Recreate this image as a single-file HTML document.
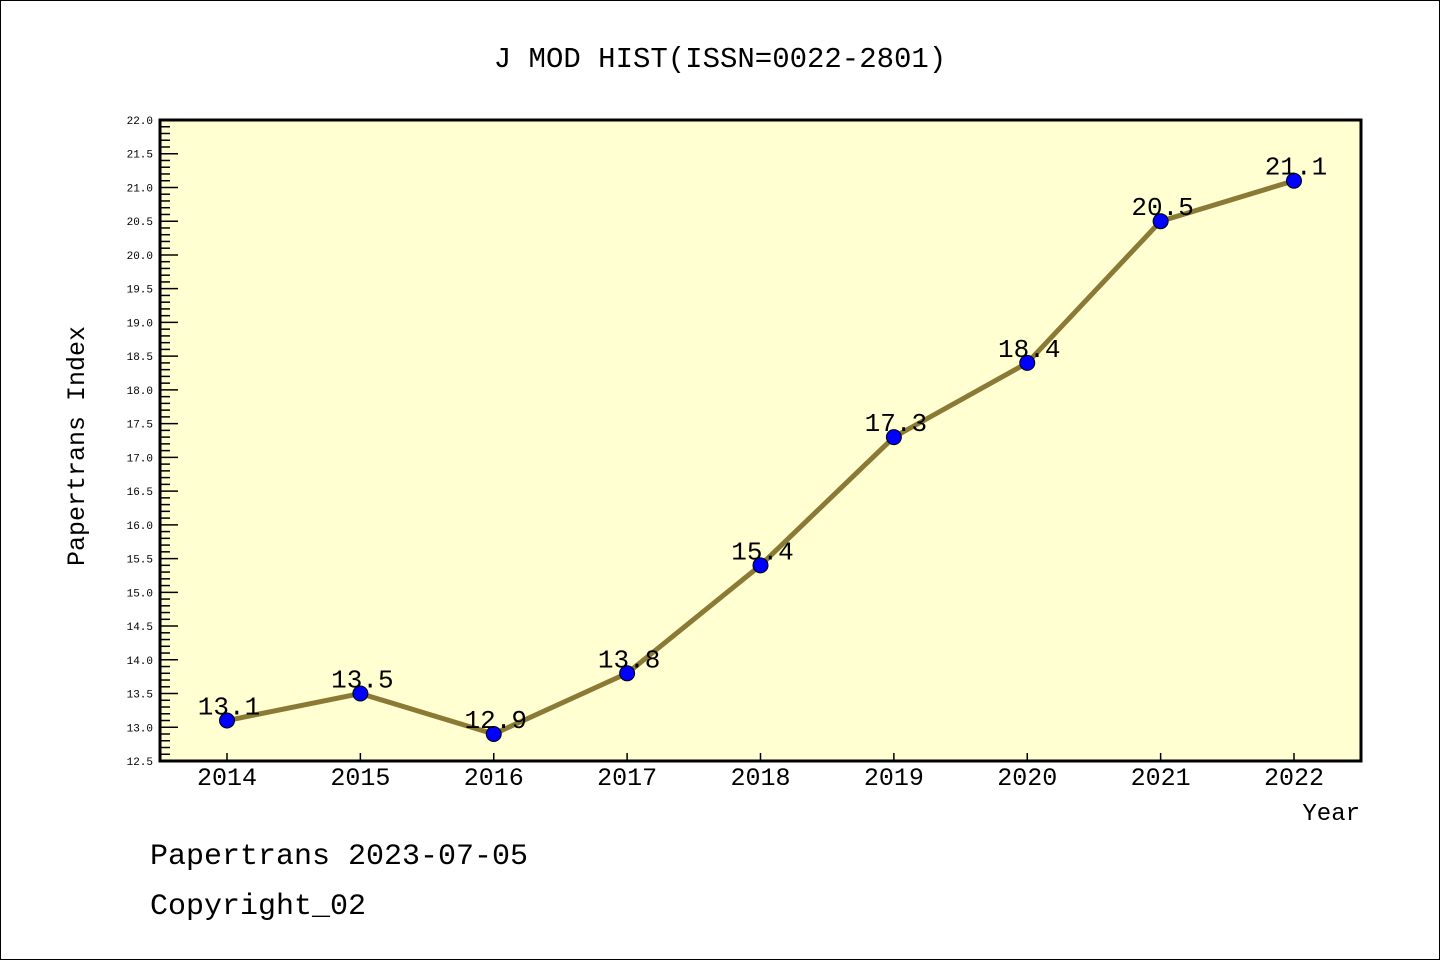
<!DOCTYPE html>
<html><head><meta charset="utf-8"><style>
html,body{margin:0;padding:0;background:#fff}
svg{display:block}
text{font-family:"Liberation Mono","WenQuanYi Zen Hei",monospace;fill:#000}
</style></head><body>
<svg id="chart" width="1440" height="960" xmlns="http://www.w3.org/2000/svg">
<rect x="0.5" y="0.5" width="1439" height="959" fill="#fff" stroke="#000" stroke-width="1"/>
<text x="720" y="67" font-size="29" text-anchor="middle">J MOD HIST(ISSN=0022-2801)</text>
<rect x="160" y="120" width="1201" height="641" fill="#ffffd2"/>
<g id="yaxis"></g>
<g id="xaxis"></g>
<g id="series"></g>
<rect x="160" y="120" width="1201" height="641" fill="none" stroke="#000" stroke-width="3"/>
<text transform="translate(84,446) rotate(-90)" font-size="25" text-anchor="middle">Papertrans Index</text>
<text x="1360" y="820" font-size="24" text-anchor="end">Year</text>
<text x="150" y="864" font-size="30">Papertrans 2023-07-05</text>
<text x="150" y="914" font-size="30">Copyright_02</text>
</svg>
<script>
const years = ["2014","2015","2016","2017","2018","2019","2020","2021","2022"];
const values = [13.1,13.5,12.9,13.8,15.4,17.3,18.4,20.5,21.1];
const valueLabels = ["13.1","13.5","12.9","13.8","15.4","17.3","18.4","20.5","21.1"];
const yMin = 12.5, yMax = 22.0;
const NS="http://www.w3.org/2000/svg";
const L=160,R=1361,T=120,B=761;
function yS(v){return B-(v-yMin)/(yMax-yMin)*(B-T);}
function xS(i){return 227+i*(1294-227)/(years.length-1);}
function mk(tag,attrs,parent){const e=document.createElementNS(NS,tag);for(const k in attrs)e.setAttribute(k,attrs[k]);parent.appendChild(e);return e;}
const ya=document.getElementById('yaxis');
for(let k=0;k<=Math.round((yMax-yMin)*10);k++){
  const v=yMin+k*0.1, y=yS(v), major=k%5===0;
  const t=mk('line',{x1:L,x2:L+(major?18:10),y1:y,y2:y,stroke:'#000','stroke-width':1.5},ya);
  
  
  if(major){
    const tx=mk('text',{x:153,y:y+4,'font-size':11,'text-anchor':'end'},ya);
    
    
    tx.textContent=v.toFixed(1);
  }
}
const xa=document.getElementById('xaxis');
years.forEach((yr,i)=>{
  const x=xS(i);
  const t=mk('line',{x1:x,x2:x,y1:B,y2:B-8,stroke:'#000','stroke-width':1.5},xa);
  
  
  const tx=mk('text',{x:x,y:785,'font-size':25,'text-anchor':'middle'},xa);
  
  
  tx.textContent=yr;
});
const s=document.getElementById('series');
const pl=mk('polyline',{points:values.map((v,i)=>xS(i)+','+yS(v)).join(' '),fill:'none',stroke:'#8b7a36','stroke-width':5,'stroke-linejoin':'round'},s);


values.forEach((v,i)=>{
  const c=mk('circle',{cx:xS(i),cy:yS(v),r:7.5,fill:'#0000ff',stroke:'#000','stroke-width':1},s);
  
  
  const tx=mk('text',{x:xS(i)+2,y:yS(v)-6,'font-size':26,'text-anchor':'middle'},s);
  
  
  tx.textContent=valueLabels[i];
});
</script>
</body></html>
